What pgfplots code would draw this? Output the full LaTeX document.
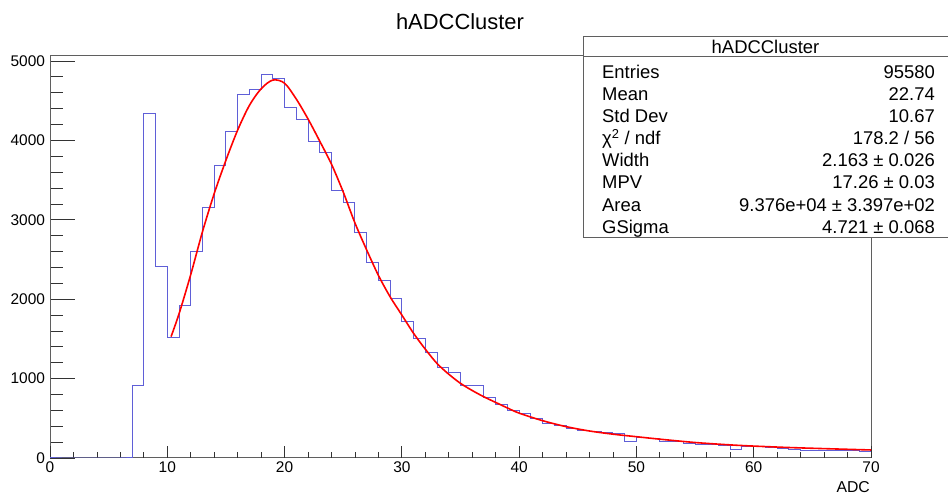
\documentclass[border=0pt]{standalone}
\usepackage{fontspec}
\setmainfont{Liberation Sans}
\usepackage{pgfplots}
\pgfplotsset{compat=1.18}
\definecolor{histblue}{RGB}{95,95,215}
\definecolor{framegray}{RGB}{95,95,95}
\begin{document}
\begin{tikzpicture}[x=1bp,y=1bp]
\useasboundingbox (0,0) rectangle (948,495);
\begin{axis}[
  at={(50bp,37bp)}, anchor=south west, scale only axis,
  width=821bp, height=402bp,
  xmin=0, xmax=70, ymin=0, ymax=5063,
  axis line style={draw=framegray, line width=1bp},
  xtick=\empty,
  ytick={0,1000,2000,3000,4000,5000},
  minor y tick num=4,
  ytick pos=left, tick align=inside,
  major tick length=25bp, minor tick length=12.5bp,
  tick style={black!80, line width=0.8bp},
  scaled y ticks=false,
  /pgf/number format/assume math mode=true,
  /pgf/number format/1000 sep={},
  yticklabel style={font=\fontsize{15.5}{16}\selectfont, xshift=-1.5bp},
]
\end{axis}
\begin{axis}[
  at={(50bp,37bp)}, anchor=south west, scale only axis,
  width=821bp, height=402bp,
  xmin=0, xmax=70, ymin=0, ymax=5063,
  clip=false,
  axis line style={draw=none},
  ytick=\empty,
  xtick={0,10,20,30,40,50,60,70},
  minor x tick num=4,
  xtick pos=left, tick align=inside,
  major tick length=12bp, minor tick length=6bp,
  tick style={black!80, line width=0.8bp},
  /pgf/number format/assume math mode=true,
  xticklabel style={font=\fontsize{15.5}{16}\selectfont},
]
\addplot[const plot mark left, draw=histblue, line width=1bp] coordinates {
(0,0) (1,0) (2,0) (3,0) (4,0) (5,0) (6,0)
(7,911) (8,4341) (9,2414) (10,1520) (11,1918) (12,2599) (13,3161) (14,3690)
(15,4118) (16,4580) (17,4635) (18,4832) (19,4782) (20,4408) (21,4257)
(22,3992) (23,3850) (24,3371) (25,3220) (26,2846) (27,2460) (28,2233)
(29,2015) (30,1721) (31,1503) (32,1326) (33,1138) (34,1075) (35,915)
(36,915) (37,768) (38,672) (39,592) (40,563) (41,500) (42,437) (43,407)
(44,374) (45,340) (46,328) (47,319) (48,311) (49,206) (50,256) (51,248)
(52,214) (53,206) (54,185) (55,176) (56,168) (57,160) (58,113) (59,143)
(60,139) (61,130) (62,122) (63,113) (64,97) (65,97) (66,97) (67,97)
(68,92) (69,80) (70,80)
};
\addplot[smooth, tension=0.5, draw=red, line width=1.6bp] coordinates {
(10.32,1528) (11,1815) (12,2310) (13,2850) (14,3330) (15,3750) (16,4130)
(17,4440) (18,4650) (19,4760) (20,4720) (21,4520) (22,4270) (23,3990)
(24,3700) (25,3350) (26,2960) (27,2620) (28,2300) (29,2030) (30,1800)
(31,1570) (32,1370) (33,1190) (34,1055) (35,940) (36,850) (37,770)
(38,700) (39,630) (40,565) (42,470) (44,395) (46,340) (48,300) (50,268)
(52,237) (55,195) (58,165) (60,150) (63,132) (66,118) (70,101)
};
\end{axis}
% axis title
\node[anchor=base east, font=\fontsize{15.8}{16}\selectfont, inner sep=0pt] at (870,2.5) {ADC};
% main title
\node[anchor=base, font=\fontsize{22}{24}\selectfont, inner sep=0pt] at (460,465.7) {hADCCluster};
% stats box
\fill[white] (583,257) rectangle (948,458);
\draw[framegray, line width=1bp] (948,458) -- (583,458) -- (583,257) -- (948,257);
\draw[framegray, line width=1bp] (583,438) -- (948,438);
\node[anchor=base, font=\fontsize{18.5}{20}\selectfont, inner sep=0pt] at (765.5,441.5) {hADCCluster};
\begin{scope}[every node/.style={font=\fontsize{18.5}{20}\selectfont, inner sep=0pt}]
\node[anchor=base west] at (602,416.5) {Entries};
\node[anchor=base east] at (935,416.5) {95580};
\node[anchor=base west] at (602,394.4) {Mean};
\node[anchor=base east] at (935,394.4) {22.74};
\node[anchor=base west] at (602,372.3) {Std Dev};
\node[anchor=base east] at (935,372.3) {10.67};
\node[anchor=base west] at (602,350.2) {χ\textsuperscript{2} / ndf};
\node[anchor=base east] at (935,350.2) {178.2 / 56};
\node[anchor=base west] at (602,328.1) {Width};
\node[anchor=base east] at (935,328.1) {2.163 ± 0.026};
\node[anchor=base west] at (602,306.0) {MPV};
\node[anchor=base east] at (935,306.0) {17.26 ± 0.03};
\node[anchor=base west] at (602,283.9) {Area};
\node[anchor=base east] at (935,283.9) {9.376e+04 ± 3.397e+02};
\node[anchor=base west] at (602,261.8) {GSigma};
\node[anchor=base east] at (935,261.8) {4.721 ± 0.068};
\end{scope}
\end{tikzpicture}
\end{document}
